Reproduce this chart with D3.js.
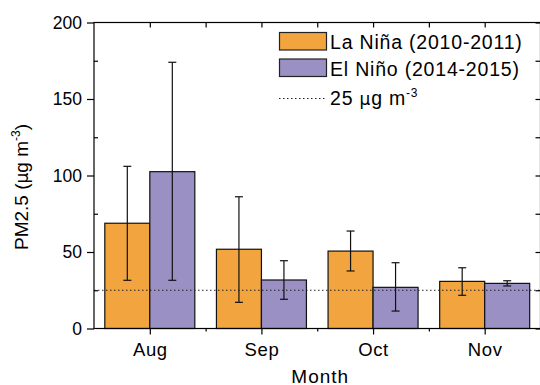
<!DOCTYPE html>
<html>
<head>
<meta charset="utf-8">
<script src="https://cdn.jsdelivr.net/npm/d3@7"></script>
<style>
    body { margin: 0; background: #fff; }
    svg text { font-family: "Liberation Sans", Arial, sans-serif; fill: #000; }
</style>
</head>
<body>
<div id="chart"></div>
<script>
"use strict";

const months = ["Aug", "Sep", "Oct", "Nov"];
const series = ["La Niña (2010-2011)", "El Niño (2014-2015)"];
const lanina = [68.8, 51.8, 50.6, 30.8];
const lanina_lo = [31.5, 17.1, 37.6, 21.7];
const lanina_hi = [106, 86.1, 63.7, 39.7];
const elnino = [102.5, 31.7, 26.9, 29.5];
const elnino_lo = [31.5, 19.1, 11.4, 27.8];
const elnino_hi = [174, 44.3, 43, 31.2];
const threshold = 25;
const yticks = [0, 50, 100, 150, 200];

const colors = ["#F2A43F", "#9B90C3"];

const W = 540, H = 385;
const LEFT = 94, RIGHT = 540.5, TOP = 22.5, BOTTOM = 328.5;

let svg = d3.select("#chart").append("svg")
    .attr("width", W)
    .attr("height", H);

let xscale = d3.scaleLinear().domain([0.5, 4.5]).range([LEFT, RIGHT]);
let yscale = d3.scaleLinear().domain([0, 200]).range([BOTTOM, TOP]);

const BW = 45;

let data = months.map((m, i) => [
    { m: i + 1, s: 0, v: lanina[i], lo: lanina_lo[i], hi: lanina_hi[i] },
    { m: i + 1, s: 1, v: elnino[i], lo: elnino_lo[i], hi: elnino_hi[i] },
]).flat();

// bars
svg.append("g").selectAll("rect")
    .data(data)
    .join("rect")
    .attr("x", d => xscale(d.m) - (d.s === 0 ? BW : 0))
    .attr("y", d => yscale(d.v))
    .attr("width", BW)
    .attr("height", d => yscale(0) - yscale(d.v))
    .attr("fill", d => colors[d.s])
    .attr("stroke", "#111")
    .attr("stroke-width", 1.2);

// error bars
let eb = svg.append("g").attr("stroke", "#111").attr("stroke-width", 1.2);
data.forEach(d => {
    const cx = xscale(d.m) + (d.s === 0 ? -BW / 2 : BW / 2);
    eb.append("line").attr("x1", cx).attr("x2", cx)
        .attr("y1", yscale(d.lo)).attr("y2", yscale(d.hi));
    [d.lo, d.hi].forEach(v => {
        eb.append("line").attr("x1", cx - 4).attr("x2", cx + 4)
            .attr("y1", yscale(v)).attr("y2", yscale(v));
    });
});

// threshold line
svg.append("line")
    .attr("x1", LEFT).attr("x2", RIGHT)
    .attr("y1", yscale(threshold)).attr("y2", yscale(threshold))
    .attr("stroke", "#222").attr("stroke-width", 1)
    .attr("stroke-dasharray", "1.5,2.5");

// frame
svg.append("rect")
    .attr("x", LEFT).attr("y", TOP)
    .attr("width", RIGHT - LEFT).attr("height", BOTTOM - TOP)
    .attr("fill", "none").attr("stroke", "#000").attr("stroke-width", 1.2);

// axes
let yaxis = svg.append("g")
    .attr("transform", `translate(${LEFT},0)`)
    .call(d3.axisLeft(yscale).tickValues(yticks).tickSize(7).tickPadding(5));
let yminor = svg.append("g")
    .attr("transform", `translate(${LEFT},0)`)
    .call(d3.axisLeft(yscale).tickValues([25, 75, 125, 175]).tickSize(-4).tickFormat(""));
let yright = svg.append("g")
    .attr("transform", `translate(${RIGHT},0)`)
    .call(d3.axisLeft(yscale).tickValues(d3.range(0, 201, 25)).tickSize(5).tickFormat(""));

let xaxis = svg.append("g")
    .attr("transform", `translate(0,${BOTTOM})`)
    .call(d3.axisBottom(xscale).tickValues([1, 2, 3, 4])
        .tickFormat((d, i) => months[i]).tickSize(6).tickPadding(8));
let xminor = svg.append("g")
    .attr("transform", `translate(0,${BOTTOM})`)
    .call(d3.axisBottom(xscale).tickValues([1.5, 2.5, 3.5]).tickSize(3).tickFormat(""));
let xtop = svg.append("g")
    .attr("transform", `translate(0,${TOP})`)
    .call(d3.axisBottom(xscale).tickValues([1, 1.5, 2, 2.5, 3, 3.5, 4]).tickSize(5).tickFormat(""));

[yaxis, yminor, yright, xaxis, xminor, xtop].forEach(a => {
    a.select(".domain").remove();
    a.attr("font-family", null).attr("font-size", null);
    a.selectAll(".tick line").attr("stroke", "#000").attr("stroke-width", 1.2);
});
yaxis.selectAll("text").attr("font-size", 17.5).attr("fill", "#000");
xaxis.selectAll("text").attr("font-size", 18.5).attr("letter-spacing", 0.6).attr("fill", "#000");

// axis titles
svg.append("text")
    .attr("x", (LEFT + RIGHT) / 2 + 3).attr("y", 382.5)
    .attr("text-anchor", "middle")
    .attr("font-size", 19)
    .attr("letter-spacing", 1)
    .text("Month");

let ytitle = svg.append("text")
    .attr("transform", `translate(28,187) rotate(-90)`)
    .attr("text-anchor", "middle")
    .attr("font-size", 19);
ytitle.append("tspan").text("PM2.5 (");
ytitle.append("tspan").attr("font-family", "'DejaVu Sans', sans-serif").attr("font-size", 17).text("μ");
ytitle.append("tspan").text("g m");
ytitle.append("tspan").attr("dy", -8).attr("font-size", 12).text("-3");
ytitle.append("tspan").attr("dy", 8).text(")");

// legend
let legend = svg.append("g");
series.forEach((s, i) => {
    legend.append("rect")
        .attr("x", 279.5).attr("y", 32.5 + i * 26.5)
        .attr("width", 47).attr("height", 17.5)
        .attr("fill", colors[i]).attr("stroke", "#222").attr("stroke-width", 1.2);
    legend.append("text")
        .attr("x", 330).attr("y", 48.5 + i * 27.5)
        .attr("font-size", 19.5)
        .attr("letter-spacing", 0.8)
        .text(s);
});
legend.append("line")
    .attr("x1", 279).attr("x2", 326).attr("y1", 98.5).attr("y2", 98.5)
    .attr("stroke", "#222").attr("stroke-dasharray", "1.5,2.5");
let lt = legend.append("text").attr("x", 330).attr("y", 104.5)
    .attr("font-size", 19.5).attr("letter-spacing", 0.8);
lt.append("tspan").text("25 ");
lt.append("tspan").attr("font-family", "'DejaVu Sans', sans-serif").attr("font-size", 17).text("μ");
lt.append("tspan").text("g m");
lt.append("tspan").attr("dy", -8).attr("font-size", 12).text("-3");
</script>
</body>
</html>
